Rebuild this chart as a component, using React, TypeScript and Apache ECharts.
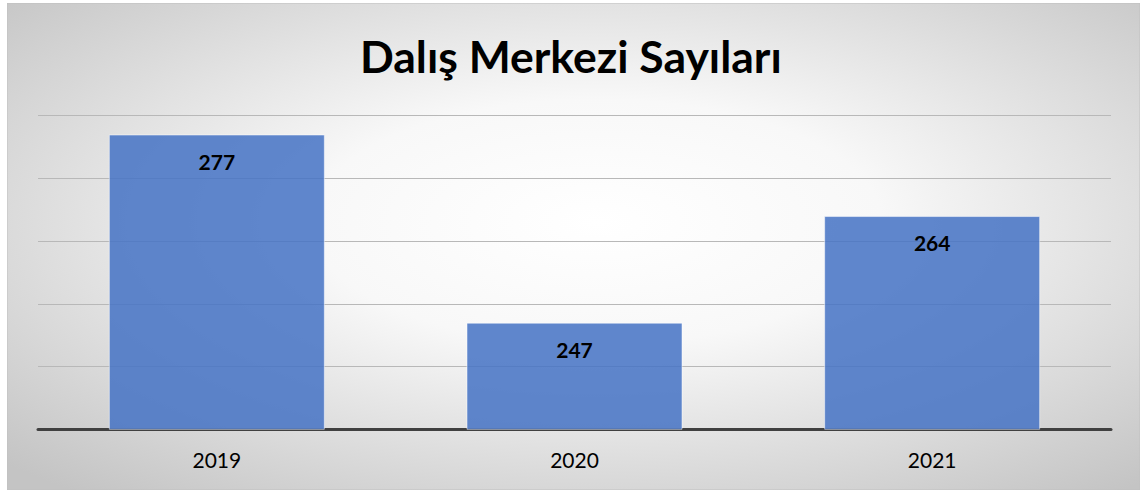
import React, { useEffect, useRef } from "react";
import * as echarts from "echarts";

const title = "Dalış Merkezi Sayıları";
const categories = ["2019", "2020", "2021"];
const values = [277, 247, 264];
const yMin = 230;
const yMax = 280;
const yInterval = 10;

export default function App() {
  const ref = useRef<HTMLDivElement>(null);
  useEffect(() => {
    document.body.style.margin = "0";
    const chart = echarts.init(ref.current!, null, { renderer: "svg" });
    chart.setOption({
      animation: false,
      graphic: [
        {
          type: "rect",
          z: -10,
          silent: true,
          shape: { x: 0, y: 0, width: 1133, height: 487 },
          style: {
            fill: new echarts.graphic.RadialGradient(0.52, 0.45, 0.72, [
              { offset: 0, color: "#ffffff" },
              { offset: 0.35, color: "#f8f8f8" },
              { offset: 1, color: "#c4c4c4" },
            ]),
            stroke: "#c0c0c0",
            lineWidth: 1,
          },
        },
      ],
      title: {
        text: title,
        left: 565 - 7 - 210,
        top: 25,
        textStyle: {
          fontFamily: "Lato",
          fontWeight: "bold",
          fontSize: 44.5,
          color: "#000000",
        },
      },
      grid: { left: 31, right: 29, top: 112.7, bottom: 60.7, containLabel: false },
      xAxis: {
        type: "category",
        data: categories,
        axisLine: { show: true, lineStyle: { color: "#404040", width: 3 } },
        axisTick: { show: false },
        axisLabel: {
          fontFamily: "Lato",
          fontSize: 21,
          color: "#000000",
          margin: 20,
        },
      },
      yAxis: {
        type: "value",
        min: yMin,
        max: yMax,
        interval: yInterval,
        axisLine: { show: false },
        axisTick: { show: false },
        axisLabel: { show: false },
        splitLine: { lineStyle: { color: "#b8b8b8", width: 1 } },
      },
      series: [
        {
          type: "bar",
          data: values,
          barWidth: 216,
          itemStyle: {
            color: "rgba(68,114,196,0.85)",
            borderColor: "rgba(255,255,255,0.5)",
            borderWidth: 1,
          },
          label: {
            show: true,
            position: "insideTop",
            distance: 16,
            fontFamily: "Lato",
            fontWeight: "bold",
            fontSize: 21,
            color: "#000000",
          },
        },
      ],
    });
    return () => chart.dispose();
  }, []);
  return (
    <div
      ref={ref}
      style={{ width: 1133, height: 487, marginLeft: 7, marginTop: 3 }}
    />
  );
}
